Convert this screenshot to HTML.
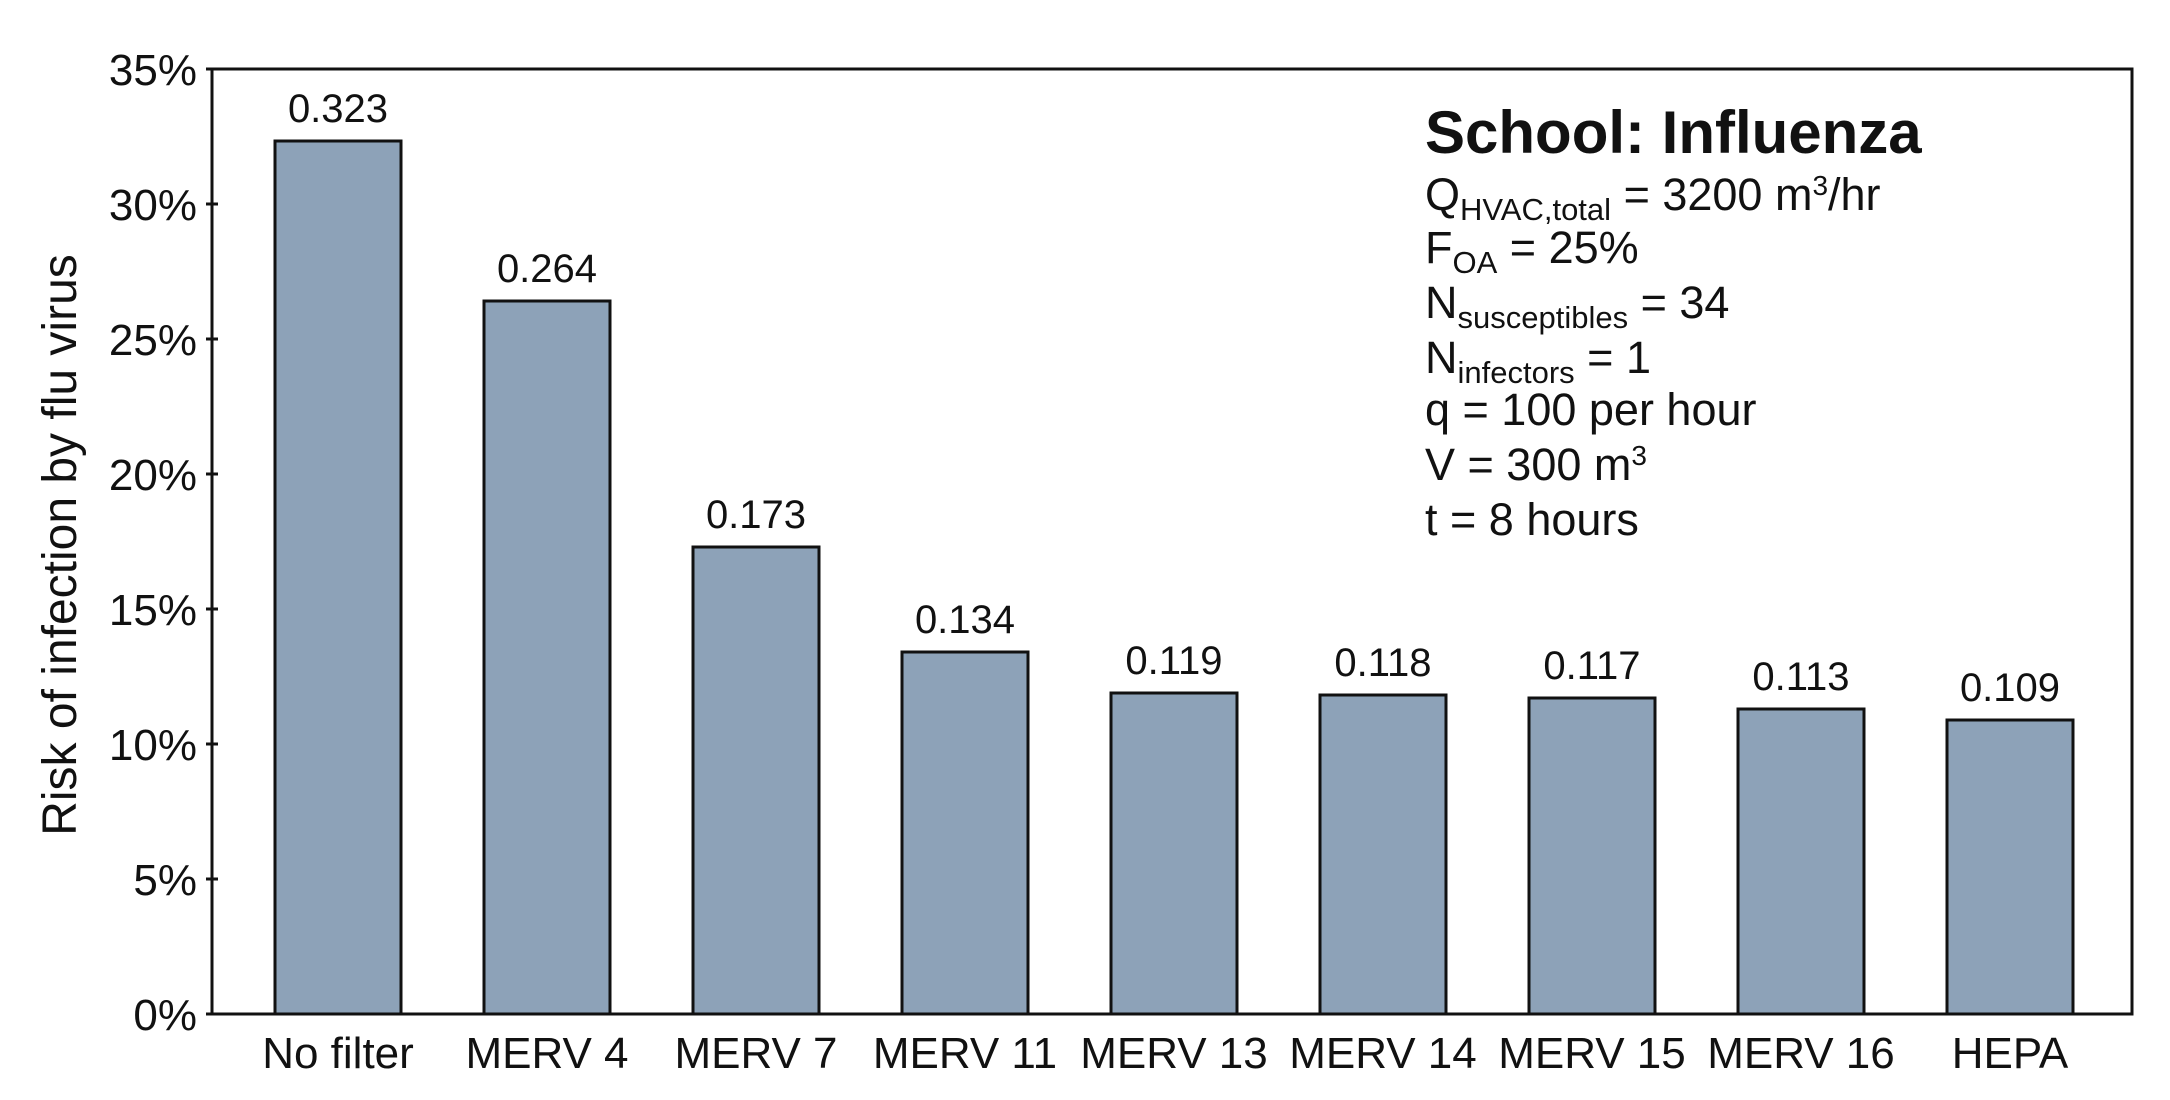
<!DOCTYPE html>
<html><head><meta charset="utf-8"><style>
html,body{margin:0;padding:0;background:#fff;}
svg{display:block;}
text{font-family:"Liberation Sans",Arial,sans-serif;fill:#111;}
</style></head><body>
<svg width="2170" height="1100" viewBox="0 0 2170 1100" xmlns="http://www.w3.org/2000/svg">
<rect width="2170" height="1100" fill="#fff"/>
<g fill="#8da2b8" stroke="#111" stroke-width="3">
<rect x="275" y="141" width="126" height="873"/>
<rect x="484" y="301" width="126" height="713"/>
<rect x="693" y="547" width="126" height="467"/>
<rect x="902" y="652" width="126" height="362"/>
<rect x="1111" y="693" width="126" height="321"/>
<rect x="1320" y="695" width="126" height="319"/>
<rect x="1529" y="698" width="126" height="316"/>
<rect x="1738" y="709" width="126" height="305"/>
<rect x="1947" y="720" width="126" height="294"/>
</g>
<rect x="212" y="69" width="1920" height="945" fill="none" stroke="#111" stroke-width="3"/>
<g stroke="#111" stroke-width="3">
<line x1="206" y1="69" x2="218" y2="69"/>
<line x1="206" y1="204" x2="218" y2="204"/>
<line x1="206" y1="339" x2="218" y2="339"/>
<line x1="206" y1="474" x2="218" y2="474"/>
<line x1="206" y1="609" x2="218" y2="609"/>
<line x1="206" y1="744" x2="218" y2="744"/>
<line x1="206" y1="879" x2="218" y2="879"/>
<line x1="206" y1="1014" x2="218" y2="1014"/>
</g>
<g font-size="44" text-anchor="end">
<text x="197" y="85">35%</text>
<text x="197" y="220">30%</text>
<text x="197" y="355">25%</text>
<text x="197" y="490">20%</text>
<text x="197" y="625">15%</text>
<text x="197" y="760">10%</text>
<text x="197" y="895">5%</text>
<text x="197" y="1030">0%</text>
</g>
<text font-size="48" text-anchor="middle" transform="translate(76,545) rotate(-90)">Risk of infection by flu virus</text>
<g font-size="44" text-anchor="middle">
<text x="338" y="1068">No filter</text>
<text x="547" y="1068">MERV 4</text>
<text x="756" y="1068">MERV 7</text>
<text x="965" y="1068">MERV 11</text>
<text x="1174" y="1068">MERV 13</text>
<text x="1383" y="1068">MERV 14</text>
<text x="1592" y="1068">MERV 15</text>
<text x="1801" y="1068">MERV 16</text>
<text x="2010" y="1068">HEPA</text>
</g>
<g font-size="40" text-anchor="middle">
<text x="338" y="122">0.323</text>
<text x="547" y="282">0.264</text>
<text x="756" y="528">0.173</text>
<text x="965" y="633">0.134</text>
<text x="1174" y="674">0.119</text>
<text x="1383" y="676">0.118</text>
<text x="1592" y="679">0.117</text>
<text x="1801" y="690">0.113</text>
<text x="2010" y="701">0.109</text>
</g>
<text x="1425" y="153" font-size="60" font-weight="bold">School: Influenza</text>
<g font-size="45">
<text x="1425" y="210">Q<tspan font-size="31" dy="10">HVAC,total</tspan><tspan dy="-10"> = 3200 m</tspan><tspan font-size="28" dy="-15">3</tspan><tspan dy="15">/hr</tspan></text>
<text x="1425" y="263">F<tspan font-size="31" dy="10">OA</tspan><tspan dy="-10"> = 25%</tspan></text>
<text x="1425" y="318">N<tspan font-size="31" dy="10">susceptibles</tspan><tspan dy="-10"> = 34</tspan></text>
<text x="1425" y="373">N<tspan font-size="31" dy="10">infectors</tspan><tspan dy="-10"> = 1</tspan></text>
<text x="1425" y="425">q = 100 per hour</text>
<text x="1425" y="480">V = 300 m<tspan font-size="28" dy="-15">3</tspan></text>
<text x="1425" y="535">t = 8 hours</text>
</g>
</svg>
</body></html>
